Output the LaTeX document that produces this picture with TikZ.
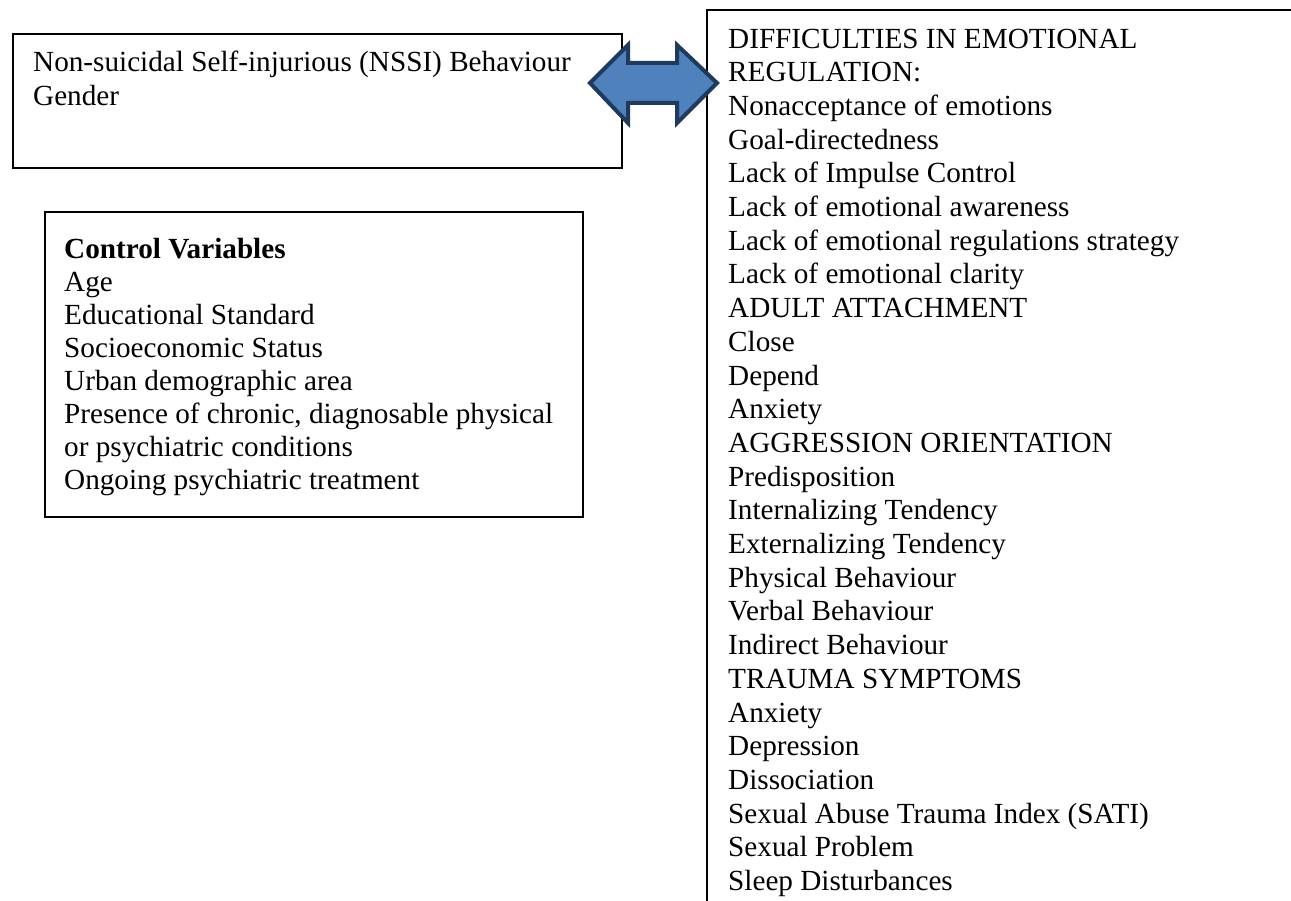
\documentclass[tikz,border=0pt]{standalone}
\usepackage{fontspec}
\setmainfont{Liberation Serif}
\usetikzlibrary{positioning}
\definecolor{arrowfill}{HTML}{4F81BD}
\definecolor{arrowline}{HTML}{203A5E}

\begin{document}
\begin{tikzpicture}[x=1pt,y=-1pt,
        frame/.style={draw=black,line width=1.3pt},
        txt/.style={anchor=base west,inner sep=0pt,align=left,
            font=\fontsize{29.2}{33.7}\selectfont},
        twoway/.style={fill=arrowfill,draw=arrowline,line width=4pt}]
        \useasboundingbox (0,0) rectangle (1291,901);
        \clip (0,0) rectangle (1291,901);

        % anchors sit on the last line of each text
        \draw[frame] (13,34) rectangle (622,168);
        \node[txt] (nssi) at (33,105.7)
            {Non-suicidal Self-injurious (NSSI) Behaviour\\Gender};

        \draw[frame] (45,212) rectangle (583,517);
        \node[txt,font=\fontsize{29.2}{33}\selectfont] (ctrl) at (64,489)
            {\textbf{Control Variables}\\Age\\Educational Standard\\
             Socioeconomic Status\\Urban demographic area\\
             Presence of chronic, diagnosable physical\\
             or psychiatric conditions\\Ongoing psychiatric treatment};

        \draw[frame] (1300,10) -- (707,10) -- (707,910);
        \node[txt] (pred) at (728,890.5)
            {DIFFICULTIES IN EMOTIONAL\\REGULATION:\\
             Nonacceptance of emotions\\Goal-directedness\\
             Lack of Impulse Control\\Lack of emotional awareness\\
             Lack of emotional regulations strategy\\
             Lack of emotional clarity\\
             ADULT ATTACHMENT\\Close\\Depend\\Anxiety\\
             AGGRESSION ORIENTATION\\Predisposition\\
             Internalizing Tendency\\Externalizing Tendency\\
             Physical Behaviour\\Verbal Behaviour\\Indirect Behaviour\\
             TRAUMA SYMPTOMS\\Anxiety\\Depression\\Dissociation\\
             Sexual Abuse Trauma Index (SATI)\\Sexual Problem\\
             Sleep Disturbances};

        \coordinate (L) at (590,83);
        \coordinate (R) at (717,83);
        \draw[twoway] (L) -- (628,45) -- (628,63) -- (677,63) -- (677,45)
            -- (R) -- (677,123) -- (677,103) -- (628,103) -- (628,123) -- cycle;
\end{tikzpicture}
\end{document}
